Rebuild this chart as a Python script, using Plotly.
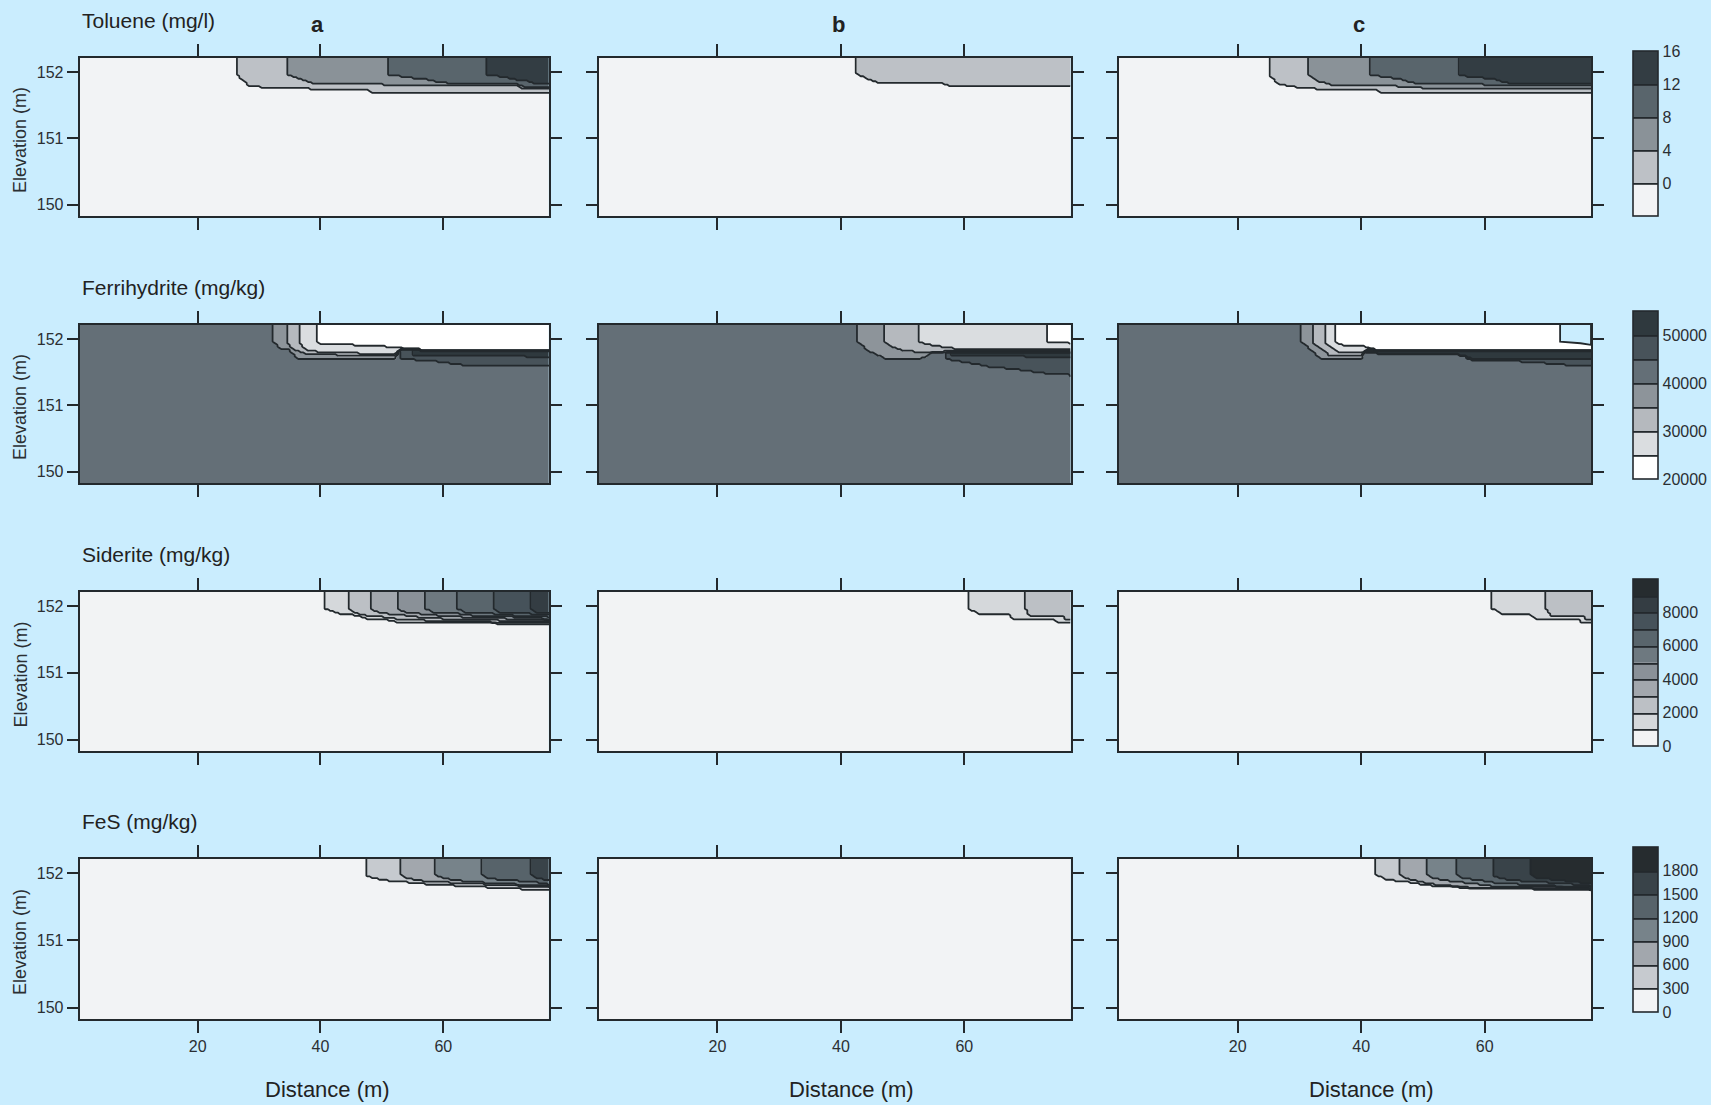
import numpy as np
import plotly.graph_objects as go

# ---------------------------------------------------------------- page
W, H = 1711, 1105
PAGE_BG = "#caedfe"
INK = "#23292d"
TEXT = "#2b2f33"
FONT = "Liberation Sans, Arial, sans-serif"

# ---------------------------------------------------------------- axes
X_RANGE = [0.8, 77.2]
Y_RANGE = [149.83, 152.21]
X_TICKS = [20, 40, 60]
Y_TICKS = [150, 151, 152]

COLUMN_LABELS = ["a", "b", "c"]
ROW_TITLES = ["Toluene (mg/l)", "Ferrihydrite (mg/kg)", "Siderite (mg/kg)", "FeS (mg/kg)"]
X_TITLE = "Distance (m)"
Y_TITLE = "Elevation (m)"

# ---------------------------------------------------------------- contour levels and colour keys
TOL_LEVELS = [0, 4, 8, 12]
FERRI_LEVELS = [25000, 30000, 35000, 40000, 45000, 50000]
SID_LEVELS = [1000, 2000, 3000, 4000, 5000, 6000, 7000, 8000, 9000]
FES_LEVELS = [300, 600, 900, 1200, 1500, 1800]

TOL_ZRANGE = [-4, 16]
FERRI_ZRANGE = [20000, 55000]
SID_ZRANGE = [0, 10000]
FES_ZRANGE = [0, 2100]

TOL_CBAR_TICKS = [0, 4, 8, 12, 16]
FERRI_CBAR_TICKS = [20000, 30000, 40000, 50000]
SID_CBAR_TICKS = [0, 2000, 4000, 6000, 8000]
FES_CBAR_TICKS = [0, 300, 600, 900, 1200, 1500, 1800]

# band colours, lowest band first
TOL_COLORS = ["#f2f3f5", "#bdc1c6", "#8a9298", "#59656c", "#333d43"]
FERRI_COLORS = ["#ffffff", "#dadde0", "#b5b9be", "#8d949a", "#646f77", "#48535a", "#2f393e"]
SID_COLORS = ["#f2f3f4", "#d5d8db", "#bcc0c5", "#a2a7ad", "#8a9198", "#6e7980",
              "#59656c", "#46525a", "#343d43", "#262c2f"]
FES_COLORS = ["#f2f3f5", "#c6cacf", "#a2a7ad", "#77838a", "#57636a", "#394349", "#262c2f"]

# ---------------------------------------------------------------- model fields
# background value of each field and the plume zones painted over it:
# (value, [(x, base elevation), ...]) -- a zone starts at its first x and
# reaches from the water table down to its base.
TOL_BG = 0
TOL_A_ZONES = [
    (2, [(26.5, 151.96), (28.4, 151.81), (31.4, 151.77), (38.0, 151.77), (38.6, 151.74),
         (47.9, 151.74), (48.5, 151.70), (77.2, 151.70)]),
    (6, [(34.5, 151.96), (38.6, 151.83), (50.1, 151.83), (50.6, 151.79), (72.0, 151.79),
         (73.0, 151.75), (77.2, 151.75)]),
    (10, [(51.2, 151.96), (53.8, 151.92), (57.0, 151.89), (58.8, 151.86), (61.0, 151.83),
          (72.0, 151.83), (73.0, 151.78), (77.2, 151.78)]),
    (14, [(67.2, 151.96), (70.0, 151.92), (71.6, 151.89), (73.8, 151.86), (75.0, 151.83),
          (77.2, 151.83)]),
]
TOL_B_ZONES = [
    (2, [(42.7, 151.97), (46.3, 151.84), (56.5, 151.84), (57.5, 151.80), (77.2, 151.80)]),
]
TOL_C_ZONES = [
    (2, [(25.4, 151.95), (26.6, 151.83), (29.7, 151.78), (32.5, 151.78), (33.0, 151.74),
         (42.5, 151.74), (43.2, 151.70), (77.2, 151.70)]),
    (6, [(31.5, 151.95), (32.8, 151.87), (35.5, 151.80), (49.0, 151.78), (50.0, 151.76),
         (77.2, 151.76)]),
    (10, [(41.6, 151.95), (43.6, 151.93), (46.0, 151.90), (48.7, 151.83), (60.0, 151.81),
          (61.0, 151.79), (77.2, 151.79)]),
    (14, [(55.8, 151.95), (58.5, 151.92), (61.3, 151.90), (63.9, 151.83), (77.2, 151.82)]),
]

FERRI_BG = 42500
FERRI_A_ZONES = [
    (47500, [(53.0, 151.70), (58.0, 151.67), (63.0, 151.61), (77.2, 151.60)]),
    (52500, [(55.0, 151.76), (77.2, 151.73)]),
    (37500, [(32.1, 151.985), (33.4, 151.85), (34.8, 151.84), (36.4, 151.70), (52.0, 151.70),
             (53.0, 151.84), (77.2, 151.84)]),
    (32500, [(34.5, 151.96), (35.3, 151.85), (37.8, 151.77), (52.0, 151.74), (53.0, 151.84),
             (77.2, 151.84)]),
    (27500, [(36.6, 151.935), (37.5, 151.84), (40.0, 151.80), (52.0, 151.77), (53.0, 151.84),
             (77.2, 151.84)]),
    (22500, [(39.3, 151.96), (40.0, 151.935), (42.7, 151.92), (49.7, 151.895), (56.2, 151.835),
             (77.2, 151.835)]),
]
FERRI_B_ZONES = [
    (47500, [(57.0, 151.70), (61.0, 151.635), (64.0, 151.585), (69.0, 151.535), (73.0, 151.485),
             (77.2, 151.46)]),
    (52500, [(58.0, 151.76), (77.2, 151.72)]),
    (37500, [(42.55, 151.96), (44.7, 151.81), (47.2, 151.71), (53.1, 151.71), (55.0, 151.80),
             (77.2, 151.80)]),
    (32500, [(47.2, 151.96), (48.3, 151.885), (50.0, 151.83), (53.0, 151.80), (56.0, 151.80),
             (57.0, 151.82), (77.2, 151.82)]),
    (27500, [(52.6, 151.96), (54.0, 151.92), (59.1, 151.845), (77.2, 151.845)]),
    (22500, [(73.4, 151.96), (75.0, 151.945), (77.2, 151.935)]),
]
FERRI_C_ZONES = [
    (47500, [(57.0, 151.69), (60.0, 151.67), (65.7, 151.66), (72.0, 151.62), (75.0, 151.595),
             (77.2, 151.595)]),
    (52500, [(40.0, 151.79), (56.0, 151.76), (58.0, 151.70), (77.2, 151.70)]),
    (37500, [(30.3, 151.96), (33.4, 151.71), (40.0, 151.71), (41.0, 151.84), (77.2, 151.84)]),
    (32500, [(32.2, 151.935), (34.8, 151.76), (40.0, 151.76), (41.0, 151.84), (77.2, 151.84)]),
    (27500, [(34.2, 151.935), (36.4, 151.79), (40.0, 151.79), (41.0, 151.84), (77.2, 151.84)]),
    (22500, [(35.85, 151.96), (36.9, 151.91), (39.0, 151.89), (40.0, 151.90), (41.5, 151.86),
             (42.4, 151.83), (77.2, 151.825)]),
]
# cells without a ferrihydrite value (left unfilled)
FERRI_C_GAP_X = [72.2, 72.2, 75.5, 77.2, 77.2]
FERRI_C_GAP_Y = [152.21, 151.96, 151.935, 151.91, 152.21]

SID_BG = 0
SID_A_ZONES = [
    (1500, [(40.8, 151.96), (43.2, 151.87), (45.6, 151.86), (47.5, 151.81), (50.6, 151.80),
            (52.2, 151.76), (68.5, 151.75), (69.0, 151.72), (77.2, 151.72)]),
    (2500, [(44.6, 151.96), (45.7, 151.90), (47.5, 151.855), (50.3, 151.835), (53.0, 151.80),
            (61.2, 151.77), (77.2, 151.745)]),
    (3500, [(48.1, 151.96), (49.8, 151.895), (53.0, 151.87), (55.7, 151.835), (60.6, 151.805),
            (77.2, 151.765)]),
    (4500, [(52.5, 151.96), (54.1, 151.895), (57.4, 151.88), (60.1, 151.845), (67.2, 151.82),
            (77.2, 151.785)]),
    (5500, [(57.1, 151.96), (58.5, 151.905), (61.7, 151.895), (65.0, 151.855), (71.5, 151.835),
            (77.2, 151.805)]),
    (6500, [(62.2, 151.96), (63.6, 151.905), (67.2, 151.895), (70.4, 151.865), (77.2, 151.835)]),
    (7500, [(68.2, 151.96), (69.3, 151.905), (72.6, 151.895), (77.2, 151.865)]),
    (8500, [(74.2, 151.96), (75.3, 151.905), (77.2, 151.895)]),
]
SID_B_ZONES = [
    (1500, [(60.5, 151.97), (62.5, 151.87), (67.3, 151.86), (68.0, 151.80), (74.5, 151.80),
            (75.2, 151.75), (77.2, 151.75)]),
    (2500, [(69.8, 151.97), (70.6, 151.85), (76.0, 151.85), (76.6, 151.79), (77.2, 151.79)]),
]
SID_C_ZONES = [
    (1500, [(61.0, 151.97), (63.0, 151.87), (67.5, 151.86), (68.2, 151.80), (75.0, 151.80),
            (75.7, 151.75), (77.2, 151.75)]),
    (2500, [(69.9, 151.97), (70.7, 151.85), (76.0, 151.85), (76.6, 151.79), (77.2, 151.79)]),
]

FES_BG = 0
FES_A_ZONES = [
    (450, [(47.3, 151.975), (47.9, 151.94), (50.3, 151.89), (54.1, 151.86), (58.4, 151.825),
           (63.8, 151.80), (72.5, 151.76), (77.2, 151.75)]),
    (750, [(53.0, 151.975), (54.1, 151.925), (57.3, 151.875), (63.3, 151.85), (68.8, 151.825),
           (77.2, 151.79)]),
    (1050, [(58.8, 151.975), (60.0, 151.925), (63.8, 151.875), (68.8, 151.85), (77.2, 151.81)]),
    (1350, [(66.2, 151.975), (67.1, 151.925), (69.8, 151.90), (74.1, 151.875), (77.2, 151.835)]),
    (1650, [(74.1, 151.975), (75.2, 151.925), (77.2, 151.89)]),
]
FES_B_ZONES = []
FES_C_ZONES = [
    (450, [(42.3, 151.975), (44.0, 151.90), (46.5, 151.875), (49.5, 151.835), (52.2, 151.80),
           (58.2, 151.775), (77.2, 151.745)]),
    (750, [(46.2, 151.975), (47.0, 151.925), (49.5, 151.875), (51.9, 151.835), (55.5, 151.80),
           (58.5, 151.775), (77.2, 151.76)]),
    (1050, [(50.6, 151.975), (51.4, 151.925), (54.9, 151.875), (57.6, 151.85), (60.9, 151.81),
            (77.2, 151.775)]),
    (1350, [(55.6, 151.975), (56.3, 151.925), (58.7, 151.90), (61.4, 151.86), (66.9, 151.825),
            (77.2, 151.79)]),
    (1650, [(61.3, 151.975), (62.3, 151.925), (64.7, 151.89), (72.3, 151.85), (77.2, 151.81)]),
    (1950, [(67.4, 151.975), (68.5, 151.925), (71.8, 151.90), (77.2, 151.84)]),
]

ROWS = [
    dict(levels=TOL_LEVELS, zrange=TOL_ZRANGE, colors=TOL_COLORS, ticks=TOL_CBAR_TICKS,
         bg=TOL_BG, zones=[TOL_A_ZONES, TOL_B_ZONES, TOL_C_ZONES]),
    dict(levels=FERRI_LEVELS, zrange=FERRI_ZRANGE, colors=FERRI_COLORS, ticks=FERRI_CBAR_TICKS,
         bg=FERRI_BG, zones=[FERRI_A_ZONES, FERRI_B_ZONES, FERRI_C_ZONES]),
    dict(levels=SID_LEVELS, zrange=SID_ZRANGE, colors=SID_COLORS, ticks=SID_CBAR_TICKS,
         bg=SID_BG, zones=[SID_A_ZONES, SID_B_ZONES, SID_C_ZONES]),
    dict(levels=FES_LEVELS, zrange=FES_ZRANGE, colors=FES_COLORS, ticks=FES_CBAR_TICKS,
         bg=FES_BG, zones=[FES_A_ZONES, FES_B_ZONES, FES_C_ZONES]),
]

# ---------------------------------------------------------------- model grid
GRID_X = np.round(np.arange(X_RANGE[0], X_RANGE[1] + 1e-9, 0.4), 3)
GRID_Y = np.concatenate([[149.83, 150.3, 150.8, 151.2, 151.4],
                         np.round(np.arange(151.46, Y_RANGE[1] + 1e-9, 0.025), 4)])


def build_field(bg, zones):
    z = np.full((len(GRID_Y), len(GRID_X)), float(bg))
    gx, gy = np.meshgrid(GRID_X, GRID_Y)
    for value, pts in zones:
        px = [p[0] for p in pts]
        py = [p[1] for p in pts]
        base = np.interp(GRID_X, px, py)
        inside = (gx >= px[0]) & (gy >= base[None, :])
        z[inside] = value
    return z


def band_scale(colors, levels, zrange):
    """Colorscale with one flat colour per band between contour levels."""
    z0, z1 = zrange
    scale = [[0.0, colors[0]]]
    for j, lev in enumerate(levels):
        t = round((lev - z0) / (z1 - z0) + 1e-4, 6)
        scale += [[t, colors[j]], [t, colors[j + 1]]]
    scale.append([1.0, colors[-1]])
    return scale


# ---------------------------------------------------------------- layout geometry (px)
COL_X = [(79.7, 549.0), (599.0, 1070.5), (1119.0, 1591.0)]
ROW_Y = [(58, 216), (325, 483), (592, 751), (859, 1019)]
CBAR_LEFT, CBAR_THICK = 1633, 25
CBAR_Y = [(51, 216), (311, 479), (579, 746), (847, 1012)]
COL_LABEL_X = [317.5, 838.0, 1358.5]
X_TITLE_X = [327.0, 851.0, 1371.7]

fig = go.Figure()
layout = dict(
    width=W, height=H,
    margin=dict(l=0, r=0, t=0, b=0, autoexpand=False),
    paper_bgcolor=PAGE_BG, plot_bgcolor=PAGE_BG,
    showlegend=False,
    font=dict(family=FONT, color=TEXT),
)
annotations = []

for r, row in enumerate(ROWS):
    levels = row["levels"]
    scale = band_scale(row["colors"], levels, row["zrange"])
    for c in range(3):
        p = r * 3 + c
        sfx = "" if p == 0 else str(p + 1)
        z = build_field(row["bg"], row["zones"][c])
        trace = go.Contour(
            x=GRID_X, y=GRID_Y, z=z,
            xaxis="x" + sfx, yaxis="y" + sfx,
            autocontour=False,
            contours=dict(start=levels[0], end=levels[-1], size=levels[1] - levels[0],
                          coloring="heatmap", showlines=True),
            line=dict(color=INK, width=1.8, smoothing=0),
            colorscale=scale, zmin=row["zrange"][0], zmax=row["zrange"][1],
            showscale=(c == 2),
            hoverinfo="skip",
        )
        if c == 2:
            y0, y1 = CBAR_Y[r]
            trace.colorbar = dict(
                x=CBAR_LEFT / W, xanchor="left", xpad=0,
                y=1 - y0 / H, yanchor="top", ypad=0,
                len=(y1 - y0) / H, lenmode="fraction",
                thickness=CBAR_THICK, thicknessmode="pixels",
                outlinecolor=INK, outlinewidth=1.6,
                ticks="", tickvals=row["ticks"], tickformat="d",
                tickfont=dict(family=FONT, size=16, color=TEXT),
                borderwidth=0, bgcolor="rgba(0,0,0,0)",
            )
        fig.add_trace(trace)

        if r == 1 and c == 2:
            fig.add_trace(go.Scatter(
                x=FERRI_C_GAP_X, y=FERRI_C_GAP_Y, xaxis="x" + sfx, yaxis="y" + sfx,
                mode="lines", fill="toself", fillcolor=PAGE_BG,
                line=dict(color=INK, width=1.8), hoverinfo="skip",
            ))

        xd = [COL_X[c][0] / W, COL_X[c][1] / W]
        yd = [1 - ROW_Y[r][1] / H, 1 - ROW_Y[r][0] / H]
        axis_common = dict(
            showline=True, linecolor=INK, linewidth=2, mirror="ticks",
            ticks="outside", tickcolor=INK, tickwidth=1.6,
            showgrid=False, zeroline=False,
            tickfont=dict(family=FONT, size=16, color=TEXT),
        )
        layout["xaxis" + sfx] = dict(
            axis_common, domain=xd, range=X_RANGE, tickvals=X_TICKS, ticklen=12,
            showticklabels=(r == 3), anchor="y" + sfx,
        )
        layout["yaxis" + sfx] = dict(
            axis_common, domain=yd, range=Y_RANGE, tickvals=Y_TICKS, ticklen=11,
            showticklabels=(c == 0), anchor="x" + sfx,
        )

    # row title and vertical axis title
    annotations.append(dict(
        text=ROW_TITLES[r], x=COL_X[0][0] / W, y=1 - (ROW_Y[r][0] - 37.5) / H,
        xanchor="left", yanchor="middle", font=dict(size=21, color="#222222"),
    ))
    annotations.append(dict(
        text=Y_TITLE, x=20 / W, y=1 - ((ROW_Y[r][0] + ROW_Y[r][1]) / 2 + 3) / H,
        xanchor="center", yanchor="middle", textangle=-90, font=dict(size=18, color=TEXT),
    ))

for c in range(3):
    annotations.append(dict(
        text="<b>%s</b>" % COLUMN_LABELS[c], x=COL_LABEL_X[c] / W, y=1 - 24 / H,
        xanchor="center", yanchor="middle", font=dict(size=22, color="#222222"),
    ))
    annotations.append(dict(
        text=X_TITLE, x=X_TITLE_X[c] / W, y=1 - 1089 / H,
        xanchor="center", yanchor="middle", font=dict(size=22, color="#222222"),
    ))

for a in annotations:
    a.update(xref="paper", yref="paper", showarrow=False)
layout["annotations"] = annotations

fig.update_layout(**layout)
fig.write_html("out.html")
